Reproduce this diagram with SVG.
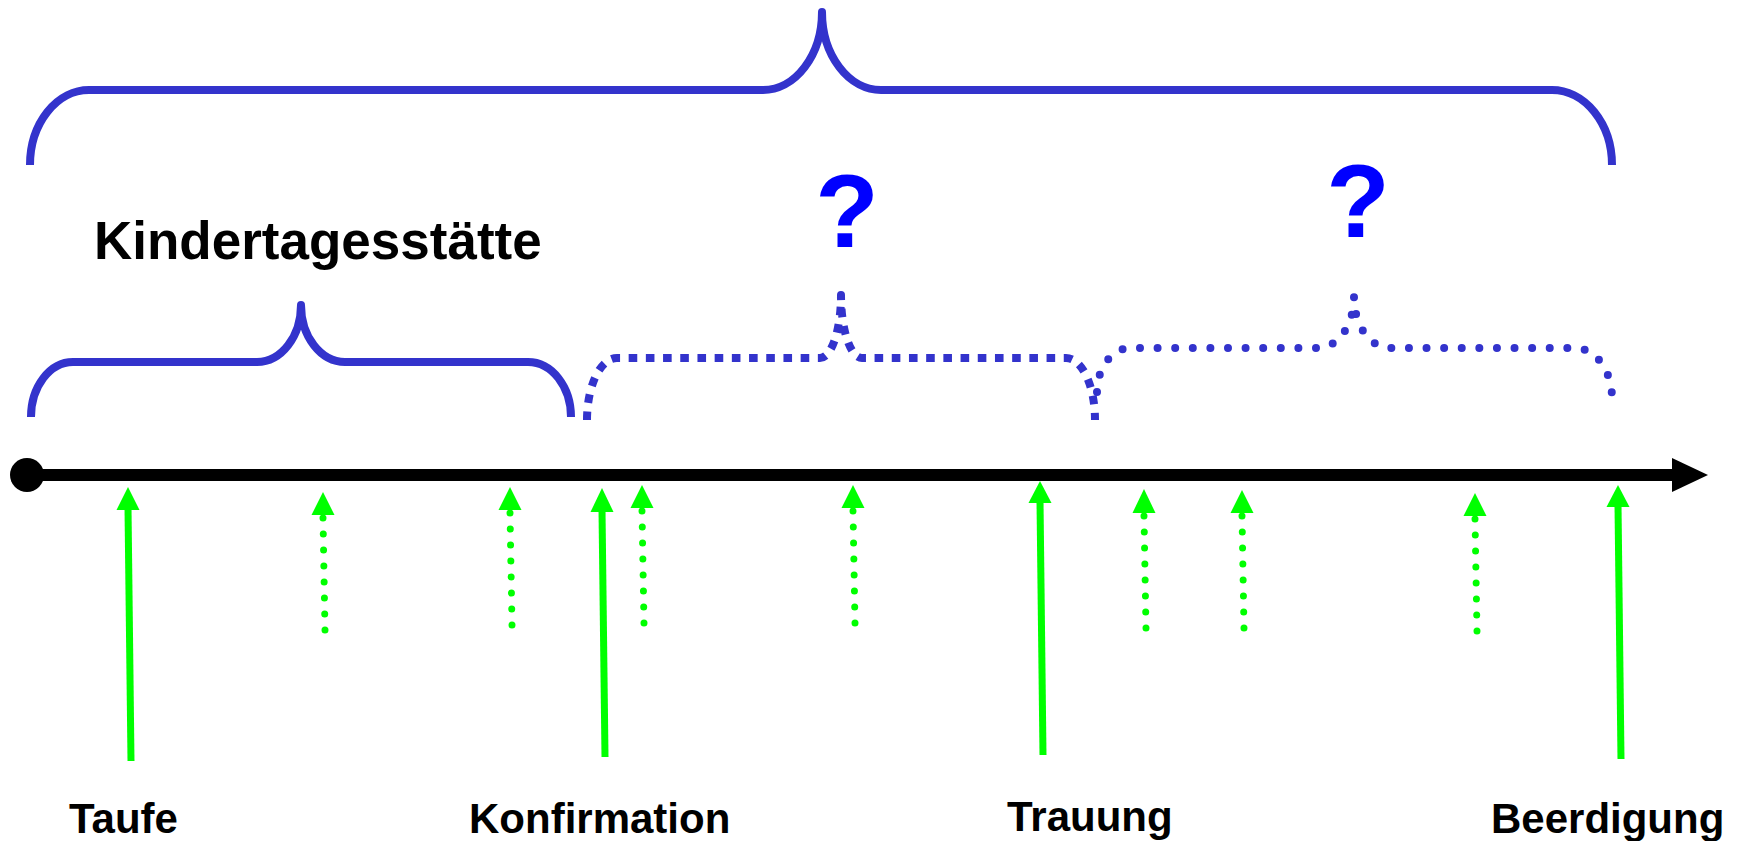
<svg xmlns="http://www.w3.org/2000/svg" width="1742" height="841" viewBox="0 0 1742 841">
  <style>
    .brace { fill: none; stroke: #3333CC; stroke-width: 8; stroke-linecap: butt; stroke-linejoin: round; }
    .square { stroke-dasharray: 8.6 8.6; }
    .round { stroke-linecap: round; stroke-dasharray: 0 17.6; }
    .shaft { stroke: #00FF00; stroke-width: 7; fill: none; }
    .dots { stroke-linecap: round; stroke-dasharray: 0 16; }
    .head { fill: #00FF00; }
    .label { font-family: "Liberation Sans", Arial, Helvetica, sans-serif; font-weight: bold; fill: #000000; }
    .q { font-family: "Liberation Sans", Arial, Helvetica, sans-serif; font-weight: bold; fill: #0000FF; font-size: 104px; text-anchor: middle; }
  </style>

  <rect width="1742" height="841" fill="#FFFFFF"/>

  <!-- whole life span -->
  <g id="brace-life">
    <path class="brace" d="M30,165 A59,75 0 0 1 89,90 L763,90 A59,78 0 0 0 822,12 A59,78 0 0 0 881,90 L1552,90 A60,75 0 0 1 1612,165"/>
  </g>

  <!-- childhood section -->
  <g id="brace-kita">
    <path class="brace" d="M31,417 A42,55 0 0 1 73,362 L257,362 A44,57 0 0 0 301,305 A44,57 0 0 0 345,362 L528,362 A43,55 0 0 1 571,417"/>
    <text class="label" x="94" y="259" font-size="53">Kindertagesstätte</text>
  </g>

  <!-- open section between confirmation and wedding -->
  <g id="brace-open-1">
    <path class="brace square" d="M587,420 A30,62 0 0 1 617,358 L820,358 A21,63 0 0 0 841,295 A21,63 0 0 0 862,358 L1066,358 A29,62 0 0 1 1095,420"/>
    <text class="q" x="847" y="247">?</text>
  </g>

  <!-- open section between wedding and funeral -->
  <g id="brace-open-2">
    <path class="brace round" d="M1097,392 A34,44 0 0 1 1131,348 L1318,348 A36,51 0 0 0 1354,297 A36,51 0 0 0 1390,348 L1575,348 A37,50 0 0 1 1612,398"/>
    <text class="q" x="1358" y="237">?</text>
  </g>

  <!-- time axis -->
  <g id="timeline">
    <line x1="27" y1="475" x2="1674" y2="475" stroke="#000000" stroke-width="12"/>
    <polygon points="1672,458 1708,475 1672,492" fill="#000000"/>
    <circle cx="27" cy="475" r="17" fill="#000000"/>
  </g>

  <!-- events pointing at the axis -->
  <g id="connectors">
    <!-- rites of passage (solid) -->
    <line class="shaft" x1="131" y1="761" x2="128" y2="508"/>
    <polygon class="head" points="128,487 116.5,510 139.5,510"/>

    <line class="shaft" x1="605" y1="757" x2="602" y2="510"/>
    <polygon class="head" points="602,488 590.5,512 613.5,512"/>

    <line class="shaft" x1="1043" y1="755" x2="1040" y2="501"/>
    <polygon class="head" points="1040,481 1028.5,503 1051.5,503"/>

    <line class="shaft" x1="1621" y1="759" x2="1618" y2="505"/>
    <polygon class="head" points="1618,485 1606.5,507 1629.5,507"/>

    <!-- other occasions (dotted) -->
    <line class="shaft dots" x1="323" y1="518" x2="325" y2="630"/>
    <polygon class="head" points="323,492 311.5,515 334.5,515"/>

    <line class="shaft dots" x1="510" y1="513" x2="512" y2="625"/>
    <polygon class="head" points="510,487 498.5,510 521.5,510"/>

    <line class="shaft dots" x1="642" y1="511" x2="644" y2="623"/>
    <polygon class="head" points="642,485 630.5,508 653.5,508"/>

    <line class="shaft dots" x1="853" y1="511" x2="855" y2="623"/>
    <polygon class="head" points="853,485 841.5,508 864.5,508"/>

    <line class="shaft dots" x1="1144" y1="516" x2="1146" y2="628"/>
    <polygon class="head" points="1144,489 1132.5,513 1155.5,513"/>

    <line class="shaft dots" x1="1242" y1="516" x2="1244" y2="628"/>
    <polygon class="head" points="1242,490 1230.5,513 1253.5,513"/>

    <line class="shaft dots" x1="1475" y1="519" x2="1477" y2="631"/>
    <polygon class="head" points="1475,493 1463.5,516 1486.5,516"/>
  </g>

  <g id="label-taufe"><text class="label" x="69" y="833" font-size="42">Taufe</text></g>
  <g id="label-konfirmation"><text class="label" x="469" y="833" font-size="42">Konfirmation</text></g>
  <g id="label-trauung"><text class="label" x="1007" y="831" font-size="42">Trauung</text></g>
  <g id="label-beerdigung"><text class="label" x="1491" y="833" font-size="42">Beerdigung</text></g>
</svg>
